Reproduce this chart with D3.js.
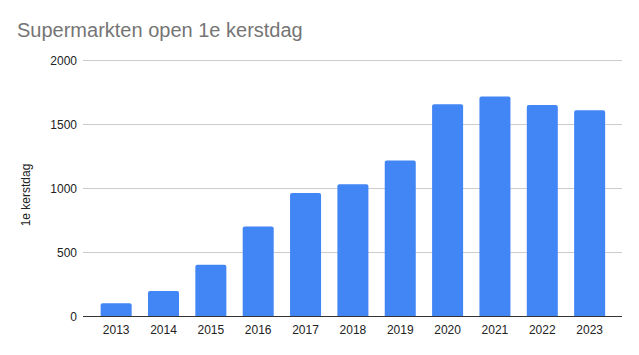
<!DOCTYPE html>
<html><head><meta charset="utf-8">
<script src="https://cdn.jsdelivr.net/npm/d3@7"></script>
<style>body{margin:0;background:#fff}svg{display:block}</style>
</head><body>
<script>
const years = ["2013","2014","2015","2016","2017","2018","2019","2020","2021","2022","2023"];
const values = [100, 195, 400, 700, 960, 1030, 1215, 1655, 1715, 1648, 1607];
const yTicks = [0, 500, 1000, 1500, 2000];
const title = "Supermarkten open 1e kerstdag";
const yTitle = "1e kerstdag";

const W = 639, H = 355;
const m = {left: 83, right: 17, top: 60, bottom: 39};
const svg = d3.select("body").append("svg").attr("width", W).attr("height", H);
const font = "Arial, 'Liberation Sans', Roboto, sans-serif";

const x = d3.scaleBand().domain(years).range([92.6, 613.2]).paddingInner(0.345).paddingOuter(0.17);
const y = d3.scaleLinear().domain([0, 2000]).range([H - m.bottom, m.top]);

// gridlines
svg.append("g").selectAll("line").data(yTicks.filter(d => d > 0)).join("line")
  .attr("x1", m.left).attr("x2", W - m.right)
  .attr("y1", d => Math.round(y(d)) + 0.5).attr("y2", d => Math.round(y(d)) + 0.5)
  .attr("stroke", "#cccccc").attr("stroke-width", 1);

// y tick labels
svg.append("g").selectAll("text").data(yTicks).join("text")
  .attr("x", 77).attr("y", d => y(d) + 4.5)
  .attr("text-anchor", "end").attr("font-family", font).attr("font-size", 12).attr("fill", "#222")
  .text(d => d);

// bars with rounded top
const r = 2;
svg.append("g").selectAll("path").data(years).join("path")
  .attr("fill", "#4285f4")
  .attr("d", (d, i) => {
    const x0 = x(d), w = x.bandwidth(), y0 = y(values[i]), yb = y(0);
    return `M${x0},${yb}V${y0 + r}Q${x0},${y0} ${x0 + r},${y0}H${x0 + w - r}Q${x0 + w},${y0} ${x0 + w},${y0 + r}V${yb}Z`;
  });

// baseline
svg.append("line").attr("x1", m.left).attr("x2", W - m.right)
  .attr("y1", Math.round(y(0)) + 0.5).attr("y2", Math.round(y(0)) + 0.5)
  .attr("stroke", "#333").attr("stroke-width", 1);

// x labels
svg.append("g").selectAll("text").data(years).join("text")
  .attr("x", d => x(d) + x.bandwidth() / 2).attr("y", 334)
  .attr("text-anchor", "middle").attr("font-family", font).attr("font-size", 12).attr("fill", "#222")
  .text(d => d);

// title
svg.append("text").attr("x", 17).attr("y", 37)
  .attr("font-family", font).attr("font-size", 20).attr("fill", "#757575").text(title);

// y title
svg.append("text").attr("transform", "translate(30,195) rotate(-90)")
  .attr("text-anchor", "middle").attr("font-family", font).attr("font-size", 12).attr("fill", "#222")
  .text(yTitle);
</script>
</body></html>
